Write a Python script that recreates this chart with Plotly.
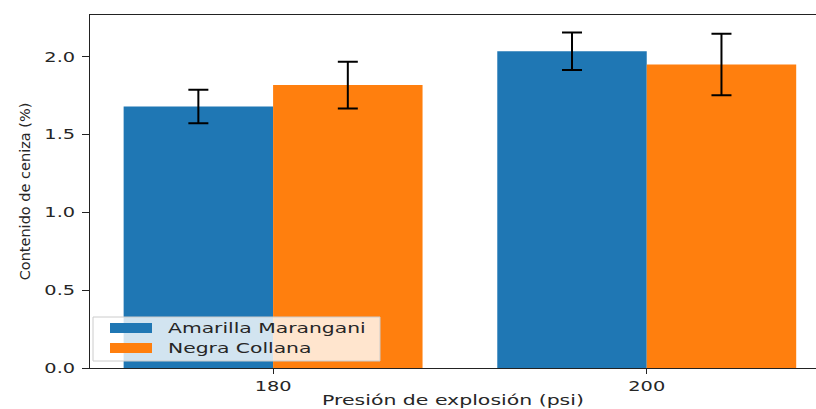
import plotly.graph_objects as go

categories = ["180", "200"]
series_names = ["Amarilla Marangani", "Negra Collana"]
amarilla = [1.68, 2.035]
amarilla_err = [0.107, 0.12]
negra = [1.818, 1.95]
negra_err = [0.15, 0.198]
colors = ["#1f77b4", "#ff7f0e"]

W, H = 816, 409
L, R, T, B = 90, 0, 15, 41

fig = go.Figure()
pos = list(range(len(categories)))
for name, vals, errs, col in [(series_names[0], amarilla, amarilla_err, colors[0]),
                              (series_names[1], negra, negra_err, colors[1])]:
    fig.add_trace(go.Bar(
        x=pos, y=vals, name=name, marker=dict(color=col, line=dict(width=0)),
        error_y=dict(type="data", array=errs, color="black", thickness=2, width=10),
        showlegend=False, hoverinfo="skip",
    ))

fig.update_layout(
    width=W, height=H,
    margin=dict(l=L, r=R, t=T, b=B, pad=0),
    paper_bgcolor="white", plot_bgcolor="white",
    barmode="group", bargap=0.2, bargroupgap=0,
    font=dict(family="DejaVu Sans", size=14, color="#262626"),
)
fig.update_xaxes(
    range=[-0.49, 1.453], tickvals=pos, ticktext=categories,
    showline=True, linecolor="#222", linewidth=1.2, mirror=True,
    ticks="outside", ticklen=5, tickcolor="#222", showgrid=False, zeroline=False,
    tickfont=dict(size=14),
    title=dict(text="Presión de explosión (psi)", font=dict(size=14), standoff=2),
)
fig.update_yaxes(
    range=[0, 2.268], tickvals=[0, 0.5, 1.0, 1.5, 2.0],
    ticktext=["0.0", "0.5", "1.0", "1.5", "2.0"],
    showline=True, linecolor="#222", linewidth=1.2,
    ticks="outside", ticklen=7, tickcolor="#222", showgrid=False, zeroline=False,
    tickfont=dict(size=14), ticklabelstandoff=4,
    title=dict(text="Contenido de ceniza (%)", font=dict(size=14.5), standoff=18),
)

# custom legend (matplotlib-style) in pixel-derived paper coordinates
pw, ph = W - L - R, H - T - B
def px(x):
    return (x - L) / pw
def py(y):
    return (H - B - y) / ph

fig.add_shape(type="rect", xref="paper", yref="paper",
              x0=px(93), x1=px(380), y0=py(361), y1=py(317),
              fillcolor="rgba(255,255,255,0.8)", line=dict(color="#cccccc", width=1), layer="above")
for i, (name, col) in enumerate(zip(series_names, colors)):
    yc = 328 + i * 20
    fig.add_shape(type="rect", xref="paper", yref="paper",
                  x0=px(110), x1=px(152), y0=py(yc + 5), y1=py(yc - 5),
                  fillcolor=col, line=dict(width=0), layer="above")
    fig.add_annotation(xref="paper", yref="paper", x=px(166), y=py(yc),
                       text=name, showarrow=False, xanchor="left", yanchor="middle",
                       align="left", font=dict(size=14, color="#262626"))

post = """
document.body.style.margin='0';document.body.style.overflow='hidden';
function stretch(sel, s){
  document.querySelectorAll(sel).forEach(function(t){
    var w=t.getComputedTextLength();
    t.setAttribute('textLength', w*s);
    t.setAttribute('lengthAdjust','spacingAndGlyphs');
  });
}
stretch('.xtick text', 1.38);
stretch('.ytick text', 1.38);
stretch('.g-xtitle text', 1.46);
stretch('text.annotation-text', 1.45);
"""
fig.write_html("out.html", post_script=post, config={"displayModeBar": False})
